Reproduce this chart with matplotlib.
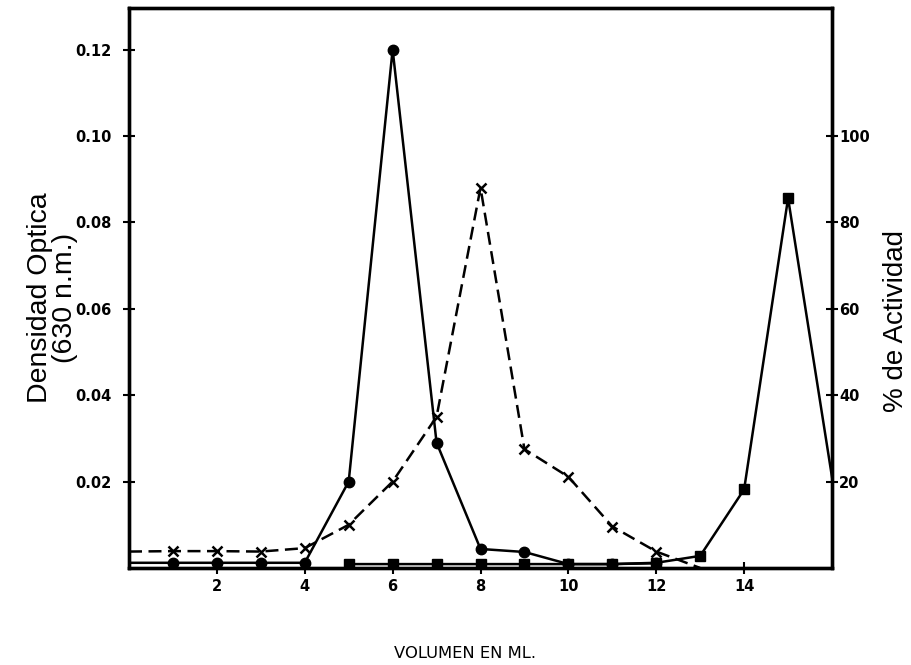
import numpy as np
import matplotlib
matplotlib.use("Agg")
import matplotlib.pyplot as plt

# volumen (ml) y densidad optica, picos de las fracciones
vol_circ = [0, 1, 2, 3, 4, 5, 6, 7, 8, 9, 10, 11, 12]
od_circ = [0.0012, 0.0012, 0.0012, 0.0012, 0.0012, 0.020, 0.120, 0.029, 0.0044, 0.0037, 0.0009, 0.0009, 0.0011]

vol_sq = [5, 6, 7, 8, 9, 10, 11, 12, 13, 14, 15, 16]
od_sq = [0.0009, 0.0009, 0.0009, 0.0009, 0.0009, 0.0009, 0.0009, 0.0012, 0.0028, 0.0182, 0.0856, 0.021]

# % de actividad
vol_act = [0, 1, 2, 3, 4, 5, 6, 7, 8, 9, 10, 11, 12, 13]
actividad = [3.8, 3.9, 3.9, 3.8, 4.6, 10.0, 20.0, 35.0, 88.0, 27.5, 21.1, 9.6, 3.8, 0.0]

xticks = [2, 4, 6, 8, 10, 12, 14]
left_ticks = [0.02, 0.04, 0.06, 0.08, 0.10, 0.12]
right_ticks = [20, 40, 60, 80, 100]

plt.rcParams['font.family'] = ['DejaVu Sans']

fig = plt.figure(figsize=(9.11, 6.65), dpi=100)
ax = fig.add_axes([0.1416, 0.1459, 0.7717, 0.842])
ax2 = ax.twinx()

lw = 1.8
ax.plot(vol_circ, od_circ, color='black', lw=lw, marker='o', ms=7.5,
        markevery=list(range(1, len(vol_circ))), zorder=3)
ax.plot(vol_sq, od_sq, color='black', lw=lw, marker='s', ms=7,
        markevery=list(range(len(vol_sq) - 1)), zorder=3)
ax2.plot(vol_act, actividad, color='black', lw=lw, linestyle=(0, (5.2, 2.6)),
         marker='x', ms=7.5, mew=1.8, markevery=list(range(1, len(vol_act) - 1)))

ax.set_xlim(0, 16)
ax.set_ylim(0, 0.1296)
ax2.set_ylim(0, 129.6)

ax.set_xticks(xticks)
ax.set_xticklabels([str(t) for t in xticks])
ax.set_yticks(left_ticks)
ax.set_yticklabels(['%.2f' % t for t in left_ticks])
ax2.set_yticks(right_ticks)
ax2.set_yticklabels([str(t) for t in right_ticks])

for a in (ax, ax2):
    for s in a.spines.values():
        s.set_linewidth(2.4)
    a.tick_params(direction='inout', length=8.5, width=1.5, labelsize=10.5)
    for lab in a.get_xticklabels() + a.get_yticklabels():
        lab.set_fontweight('bold')
ax.tick_params(axis='y', pad=8.5)
ax.tick_params(axis='x', pad=4)
ax2.tick_params(axis='y', pad=1)

ax.set_ylabel('Densidad Optica\n(630 n.m.)', fontsize=20.5, family='Liberation Sans',
              linespacing=0.95)
ax.yaxis.set_label_coords(-0.072, 0.483)
ax2.set_ylabel('% de Actividad', fontsize=20, family='Liberation Sans')
ax2.yaxis.set_label_coords(1.0725, 0.441)
ax.set_xlabel('VOLUMEN EN ML.', fontsize=11.8)
ax.xaxis.set_label_coords(0.478, -0.139)

fig.savefig('out.png', dpi=100)
